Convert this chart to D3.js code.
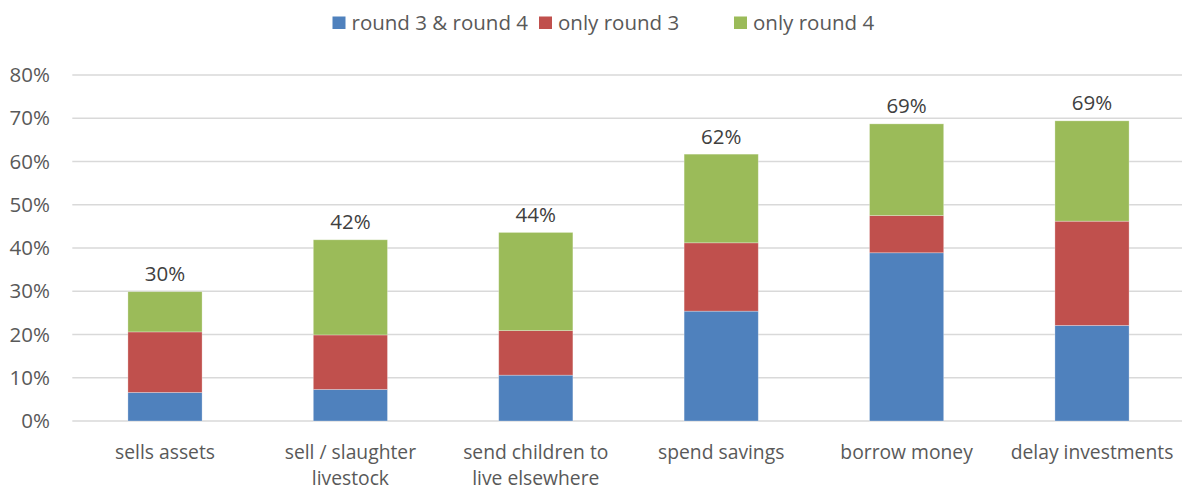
<!DOCTYPE html>
<html><head><meta charset="utf-8">
<script src="https://cdn.jsdelivr.net/npm/d3@7"></script>
<style>body{margin:0;background:#fff;} svg{display:block;}</style>
</head><body>
<svg id="chart" width="1182" height="490"></svg>
<script>
const categories = [["sells assets"], ["sell / slaughter", "livestock"], ["send children to", "live elsewhere"], ["spend savings"], ["borrow money"], ["delay investments"]];
const seriesNames = ["round 3 & round 4", "only round 3", "only round 4"];
const seriesColors = ["#4F81BD", "#C0504D", "#9BBB59"];
const round3and4 = [6.6, 7.3, 10.6, 25.4, 38.9, 22.1];
const onlyRound3 = [14.0, 12.6, 10.3, 15.8, 8.6, 24.1];
const onlyRound4 = [9.3, 22.0, 22.7, 20.5, 21.2, 23.2];
const totalLabels = ["30%", "42%", "44%", "62%", "69%", "69%"];
const yTicks = [0, 10, 20, 30, 40, 50, 60, 70, 80];

const font = "'Open Sans', sans-serif";
const fs = 20.5;
const xfs = 19.3;
const svg = d3.select("#chart");
const plotLeft = 72.3, plotRight = 1184.7, plotTop = 75, plotBottom = 421;

const keys = categories.map(c => c.join(" "));
const x = d3.scaleBand().domain(keys).range([plotLeft, plotRight]).paddingInner(0.6).paddingOuter(0.3);
const y = d3.scaleLinear().domain([0, 80]).range([plotBottom, plotTop]);

// gridlines
svg.append("g").selectAll("line").data(yTicks).join("line")
  .attr("x1", plotLeft).attr("x2", 1182)
  .attr("y1", d => y(d)).attr("y2", d => y(d))
  .attr("stroke", "#d9d9d9").attr("stroke-width", 1.3);

// y axis labels
const yAxis = d3.axisLeft(y).tickValues(yTicks).tickFormat(d => d + "%").tickSize(0).tickPadding(0);
const ya = svg.append("g").attr("transform", `translate(50,0)`).call(yAxis);
ya.select(".domain").remove();
ya.selectAll("text").attr("font-family", font).attr("font-size", fs).attr("fill", "#595959");

// stacked data
const rows = keys.map((k, i) => ({key: k, s0: round3and4[i], s1: onlyRound3[i], s2: onlyRound4[i]}));
const stack = d3.stack().keys(["s0", "s1", "s2"])(rows);

svg.append("g").selectAll("g").data(stack).join("g")
  .attr("fill", (d, i) => seriesColors[i])
  .selectAll("rect").data(d => d).join("rect")
  .attr("x", d => x(d.data.key))
  .attr("width", x.bandwidth())
  .attr("y", d => y(d[1]))
  .attr("height", d => y(d[0]) - y(d[1]))
  .attr("stroke", "rgba(255,255,255,0.35)").attr("stroke-width", 0.8);

// total labels
const last = stack[stack.length - 1];
svg.append("g").selectAll("text").data(last).join("text")
  .attr("x", d => x(d.data.key) + x.bandwidth() / 2)
  .attr("y", d => y(d[1]) - 10.5)
  .attr("text-anchor", "middle")
  .attr("font-family", font).attr("font-size", fs).attr("fill", "#404040")
  .text((d, i) => totalLabels[i]);

// x axis category labels
const xl = svg.append("g").selectAll("text").data(categories).join("text")
  .attr("x", (d, i) => x(keys[i]) + x.bandwidth() / 2)
  .attr("y", 458.5)
  .attr("text-anchor", "middle")
  .attr("font-family", font).attr("font-size", xfs).attr("fill", "#595959");
xl.selectAll("tspan").data(d => d).join("tspan")
  .attr("x", function() { return this.parentNode.getAttribute("x"); })
  .attr("dy", (d, i) => i === 0 ? 0 : 26.3)
  .text(d => d);

// legend
const legendX = [332.5, 539, 734];
const lg = svg.append("g").selectAll("g").data(seriesNames).join("g")
  .attr("transform", (d, i) => `translate(${legendX[i]},0)`);
lg.append("rect").attr("x", 0).attr("y", 16.5).attr("width", 13).attr("height", 12.5)
  .attr("fill", (d, i) => seriesColors[i]);
lg.append("text").attr("x", 19).attr("y", 30)
  .attr("font-family", font).attr("font-size", fs).attr("fill", "#595959")
  .text(d => d);
</script>
</body></html>
